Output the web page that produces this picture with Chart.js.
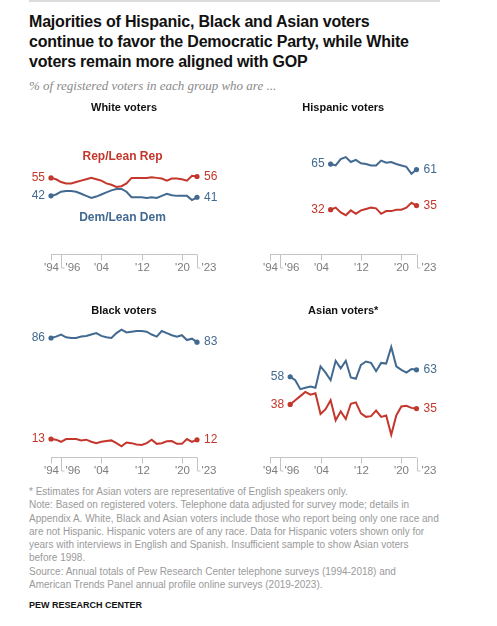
<!DOCTYPE html>
<html>
<head>
<meta charset="utf-8">
<script src="https://cdn.jsdelivr.net/npm/chart.js@4/dist/chart.umd.min.js"></script>
<style>
  body { margin: 0; background: #fff; width: 497px; height: 626px; position: relative; overflow: hidden;
         font-family: "Liberation Sans", Arial, sans-serif; }
  .rule { position: absolute; left: 29px; top: 0; width: 411px; height: 2px; background: #dcdcdc; }
  #title { position: absolute; left: 29px; top: 12px; font-weight: bold; font-size: 16px; line-height: 20px; color: #111; letter-spacing: -0.2px; }
  #sub { position: absolute; left: 29px; top: 78px; font-family: "Liberation Serif", serif; font-style: italic; font-size: 13px; line-height: 16px; color: #8a8a8a; }
  canvas { position: absolute; }
  #notes { position: absolute; left: 29px; top: 485px; font-size: 10px; line-height: 13.3px; color: #9a9a9a; white-space: nowrap; }
  #pew { position: absolute; left: 29px; top: 599px; font-size: 9px; line-height: 12px; font-weight: bold; color: #111; }
</style>
</head>
<body>
<div class="rule"></div>
<div id="title">Majorities of Hispanic, Black and Asian voters<br>continue to favor the Democratic Party, while White<br>voters remain more aligned with GOP</div>
<div id="sub">% of registered voters in each group who are ...</div>

<canvas id="white" width="240" height="185" style="left:0;top:95px"></canvas>
<canvas id="hispanic" width="257" height="185" style="left:240px;top:95px"></canvas>
<canvas id="black" width="240" height="182" style="left:0;top:298px"></canvas>
<canvas id="asian" width="257" height="182" style="left:240px;top:298px"></canvas>

<div id="notes">* Estimates for Asian voters are representative of English speakers only.<br>Note: Based on registered voters. Telephone data adjusted for survey mode; details in<br>Appendix A. White, Black and Asian voters include those who report being only one race and<br>are not Hispanic. Hispanic voters are of any race. Data for Hispanic voters shown only for<br>years with interviews in English and Spanish. Insufficient sample to show Asian voters<br>before 1998.<br>Source: Annual totals of Pew Research Center telephone surveys (1994-2018) and<br>American Trends Panel annual profile online surveys (2019-2023).</div>
<div id="pew">PEW RESEARCH CENTER</div>

<script>
const RED = '#c3372c';
const BLUE = '#426a90';

const tickYears = [1994, 1996, 2004, 2012, 2020, 2023];
const tickLabels = ["'94", "'96", "'04", "'12", "'20", "'23"];
const tickShifted = [false, true, false, false, false, true];

// 1994-2023
const whiteRep = [55, 54, 52, 51, 51, 52, 53, 54, 55, 54, 53, 51, 50, 48.5, 49, 51, 55, 55, 55, 55, 55.5, 55, 54.5, 53, 54.5, 54.5, 54, 53, 56.5, 56];
const whiteDem = [42, 43, 45, 45.5, 45.5, 45, 43.5, 42, 40.5, 41.5, 43, 44.5, 46, 47, 47, 45, 41, 41, 41, 40.5, 41, 40.5, 42, 43.5, 42.5, 42, 42, 42, 39, 41];

// 2006-2023
const hispDem = [65, 64, 68.5, 70, 66.5, 68, 65.5, 65, 64, 64, 67.5, 66, 66.5, 65, 64, 63, 58, 61];
const hispRep = [32, 33.5, 30, 28, 31.5, 29, 31.5, 32.5, 33.5, 33, 29, 31, 31, 32, 32, 33.5, 37, 35];

// 1994-2023
const blackDem = [86, 87, 88.5, 86.5, 86, 86, 87, 87.5, 88.5, 89.5, 87.5, 86.5, 86, 89.5, 92, 90, 90.5, 91, 91, 90.5, 88.5, 87, 91, 89.5, 88, 87, 88, 84.5, 85.5, 83];
const blackRep = [13, 12.5, 11, 13, 13, 13, 12, 12.5, 11, 10, 11, 11.5, 12, 10, 7.7, 10.5, 10, 9, 8.7, 10, 12.5, 9.5, 10, 11.3, 11.5, 9.5, 9.5, 13, 11, 12.4];

// 1998-2023
const asianDem = [58, 55.5, 49, 50, 51, 50, 65.5, 61, 55.5, 69.5, 64, 69.5, 57.5, 56.5, 66.5, 69, 68, 62, 68, 67.5, 79.5, 65.5, 63, 61, 63.5, 63];
const asianRep = [38, 41, 44, 47, 45, 46, 31, 34.5, 41, 26.5, 33, 27.5, 38.5, 39.5, 31.5, 29, 29.5, 33.5, 29, 30, 16, 30, 36.5, 37, 35.5, 35];

function points(startYear, vals) {
  return vals.map((v, i) => ({ x: startYear + i, y: v }));
}

const panelPlugin = {
  id: 'panel',
  afterDatasetsDraw(chart, args, opts) {
    const { ctx, chartArea: a, scales: { x, y } } = chart;
    ctx.save();
    const font = '"Liberation Sans", Arial, sans-serif';

    // panel title
    ctx.font = 'bold 11px ' + font;
    ctx.fillStyle = '#111';
    ctx.textAlign = 'center';
    ctx.textBaseline = 'middle';
    ctx.fillText(opts.title, (a.left + a.right) / 2, a.top - 8);

    // axis
    const y0 = Math.round(y.getPixelForValue(0)) + 0.5;
    ctx.strokeStyle = '#c4c4c4';
    ctx.lineWidth = 1;
    ctx.beginPath();
    ctx.moveTo(x.getPixelForValue(1994), y0);
    ctx.lineTo(x.getPixelForValue(2023), y0);
    ctx.stroke();

    ctx.font = '11.5px ' + font;
    ctx.fillStyle = '#7d7d7d';
    const ly = y0 + 13.5;
    tickYears.forEach((yr, i) => {
      const px = Math.round(x.getPixelForValue(yr)) + 0.5;
      ctx.beginPath();
      if (tickShifted[i]) {
        ctx.moveTo(px, y0);
        ctx.lineTo(px, ly);
        ctx.lineTo(px + 3, ly);
        ctx.stroke();
        ctx.textAlign = 'left';
        ctx.fillText(tickLabels[i], px + 4, ly);
      } else {
        ctx.moveTo(px, y0);
        ctx.lineTo(px, y0 + 6);
        ctx.stroke();
        ctx.textAlign = 'center';
        ctx.fillText(tickLabels[i], px, ly);
      }
    });

    // start / end value labels
    ctx.font = '12px ' + font;
    chart.data.datasets.forEach(ds => {
      const first = ds.data[0], last = ds.data[ds.data.length - 1];
      ctx.fillStyle = ds.borderColor;
      ctx.textAlign = 'right';
      ctx.fillText(Math.round(first.y), x.getPixelForValue(first.x) - 6, y.getPixelForValue(first.y));
      ctx.textAlign = 'left';
      ctx.fillText(Math.round(last.y), x.getPixelForValue(last.x) + 7, y.getPixelForValue(last.y));
    });

    // series names
    (opts.names || []).forEach(n => {
      ctx.font = 'bold 12px ' + font;
      ctx.fillStyle = n.color;
      ctx.textAlign = 'center';
      ctx.fillText(n.text, x.getPixelForValue(n.year), y.getPixelForValue(n.value));
    });
    ctx.restore();
  }
};

function makePanel(id, title, demStart, dem, repStart, rep, padding, names) {
  const dot = ctx => (ctx.dataIndex === 0 || ctx.dataIndex === ctx.dataset.data.length - 1) ? 2.6 : 0;
  new Chart(document.getElementById(id), {
    type: 'line',
    data: {
      datasets: [
        { data: points(repStart, rep), borderColor: RED, backgroundColor: RED, borderWidth: 2, pointRadius: dot, pointBorderWidth: 0, tension: 0, clip: false },
        { data: points(demStart, dem), borderColor: BLUE, backgroundColor: BLUE, borderWidth: 2, pointRadius: dot, pointBorderWidth: 0, tension: 0, clip: false }
      ]
    },
    options: {
      responsive: false,
      animation: false,
      layout: { padding: padding },
      scales: {
        x: { type: 'linear', min: 1994, max: 2023, display: false },
        y: { min: 0, max: 100, display: false }
      },
      plugins: {
        legend: { display: false },
        tooltip: { enabled: false },
        panel: { title: title, names: names }
      }
    },
    plugins: [panelPlugin]
  });
}

const padTL = { left: 51, right: 43, top: 20.6, bottom: 26 };
const padTR = { left: 30, right: 80.5, top: 20.6, bottom: 26 };
const padBL = { left: 51, right: 43, top: 20.6, bottom: 23 };
const padBR = { left: 30, right: 80.5, top: 20.6, bottom: 23 };

makePanel('white', 'White voters', 1994, whiteDem, 1994, whiteRep, padTL, [
  { text: 'Rep/Lean Rep', color: RED, year: 2008.2, value: 70 },
  { text: 'Dem/Lean Dem', color: BLUE, year: 2008.2, value: 26 }
]);
makePanel('hispanic', 'Hispanic voters', 2006, hispDem, 2006, hispRep, padTR);
makePanel('black', 'Black voters', 1994, blackDem, 1994, blackRep, padBL);
makePanel('asian', 'Asian voters*', 1998, asianDem, 1998, asianRep, padBR);
</script>
</body>
</html>
